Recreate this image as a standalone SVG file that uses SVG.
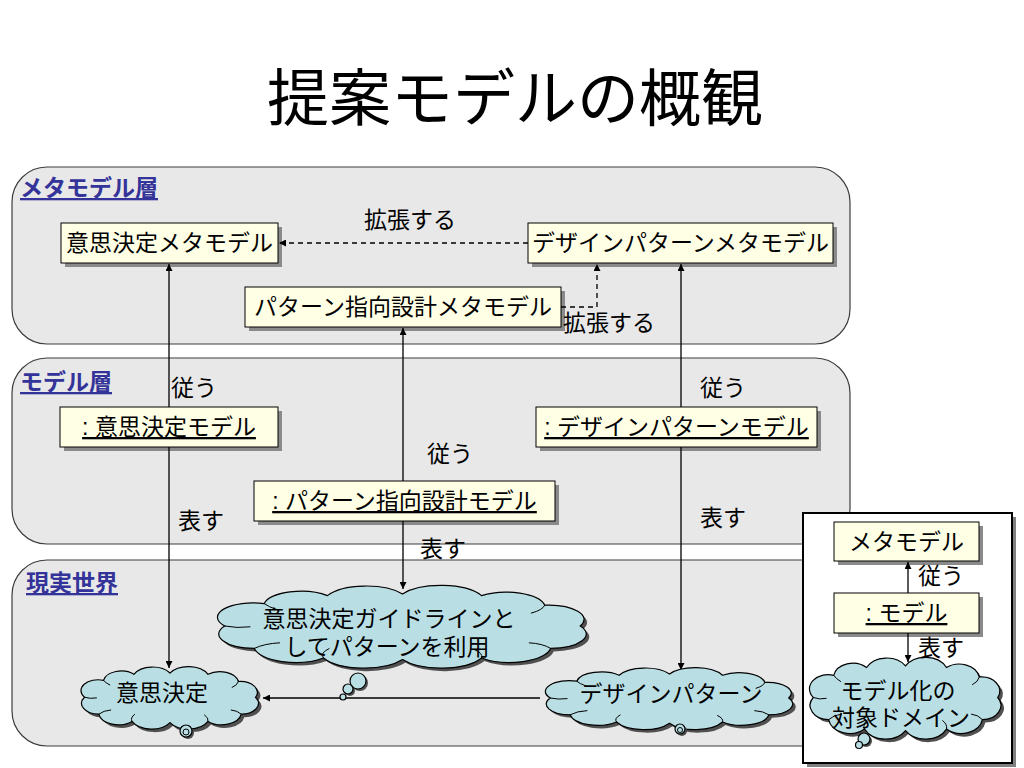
<svg xmlns="http://www.w3.org/2000/svg" xmlns:xlink="http://www.w3.org/1999/xlink" width="1024" height="768" viewBox="0 0 1024 768">
<style>
.t{font-family:"Liberation Sans","Noto Sans CJK JP",sans-serif;font-size:23px;fill:#000}
.title{font-size:62px}
.layer{font-weight:bold;fill:#333399;text-decoration:underline;font-size:23px}
.u{text-decoration:underline}
.panel{fill:#e8e8e8;stroke:#3c3c3c;stroke-width:1.2}
.box{fill:#ffffe6;stroke:#000;stroke-width:1}
.shadow{fill:#8a8a8a}
.cloud{fill:#b9dfe4;stroke:#000;stroke-width:1.2}
.cshadow{fill:#505050}
.inner{fill:none;stroke:#000;stroke-width:1}
.conn{stroke:#000;stroke-width:1.3;fill:none}
.dash{stroke-dasharray:5 4}
</style>
<defs>
<marker id="arr" viewBox="0 0 10 10" refX="10" refY="5" markerWidth="9" markerHeight="7" markerUnits="userSpaceOnUse" orient="auto"><path d="M0,0 L10,5 L0,10 Z" fill="#000"/></marker>
<path id="cl" vector-effect="non-scaling-stroke" d="M10,50 A18,18 0 0 1 30,22 A19,19 0 0 1 62,12 A22,22 0 0 1 100,10 A23,23 0 0 1 140,12 A20,20 0 0 1 172,24 A18,18 0 0 1 190,50 A18,18 0 0 1 175,78 A21,21 0 0 1 140,90 A23,23 0 0 1 100,92 A23,23 0 0 1 60,90 A21,21 0 0 1 25,78 A18,18 0 0 1 10,50 Z"/>
<path id="ci" vector-effect="non-scaling-stroke" d="M25,78 q5,-6 13,-7 M60,90 q-2,-6 3,-12 M140,90 q1,-6 -4,-11 M175,78 q-4,-6 -11,-7 M172,24 q-1,6 -7,10 M30,22 q2,4 7,8 M10,50 q6,3 13,1"/>
</defs>

<text class="t title" x="515" y="121" text-anchor="middle">提案モデルの概観</text>

<g id="layer-meta"><rect class="panel" x="12" y="167" width="838" height="177" rx="35"/><text class="t layer" x="20" y="196">メタモデル層</text></g>
<g id="layer-model"><rect class="panel" x="12" y="358" width="838" height="186" rx="35"/><text class="t layer" x="20" y="390">モデル層</text></g>
<g id="layer-real"><rect class="panel" x="12" y="560" width="838" height="186" rx="35"/><text class="t layer" x="26" y="591">現実世界</text></g>

<g id="legend"><rect x="807" y="517" width="209" height="250" fill="#808080"/><rect x="803" y="513" width="209" height="250" fill="#fff" stroke="#000" stroke-width="2"/></g>

<g id="n-dm-meta"><rect class="shadow" x="65" y="227" width="217" height="40"/><rect class="box" x="61" y="223" width="217" height="40"/><text class="t" x="169.5" y="251" text-anchor="middle">意思決定メタモデル</text></g>
<g id="n-dp-meta"><rect class="shadow" x="532" y="227" width="305" height="40"/><rect class="box" x="528" y="223" width="305" height="40"/><text class="t" x="680.5" y="251" text-anchor="middle">デザインパターンメタモデル</text></g>
<g id="n-pod-meta"><rect class="shadow" x="249" y="291" width="316" height="40"/><rect class="box" x="245" y="287" width="316" height="40"/><text class="t" x="403" y="315" text-anchor="middle">パターン指向設計メタモデル</text></g>
<g id="n-dm-model"><rect class="shadow" x="64" y="411" width="218" height="40"/><rect class="box" x="60" y="407" width="218" height="40"/><text class="t u" x="169" y="435" text-anchor="middle">: 意思決定モデル</text></g>
<g id="n-pod-model"><rect class="shadow" x="258" y="485" width="301" height="40"/><rect class="box" x="254" y="481" width="301" height="40"/><text class="t u" x="404.5" y="509" text-anchor="middle">: パターン指向設計モデル</text></g>
<g id="n-dp-model"><rect class="shadow" x="540" y="411" width="281" height="40"/><rect class="box" x="536" y="407" width="281" height="40"/><text class="t u" x="676.5" y="435" text-anchor="middle">: デザインパターンモデル</text></g>
<g id="n-leg-meta"><rect class="shadow" x="838" y="526" width="145" height="39"/><rect class="box" x="834" y="522" width="145" height="39"/><text class="t" x="906.5" y="550" text-anchor="middle">メタモデル</text></g>
<g id="n-leg-model"><rect class="shadow" x="838" y="597" width="145" height="40"/><rect class="box" x="834" y="593" width="145" height="40"/><text class="t u" x="906.5" y="621" text-anchor="middle">: モデル</text></g>

<g id="connectors">
<path class="conn dash" d="M528,243 L279,243" marker-end="url(#arr)"/>
<path class="conn dash" d="M561,307 L597,307 L597,264" marker-end="url(#arr)"/>
<path class="conn" d="M169,407 L169,264" marker-end="url(#arr)"/>
<path class="conn" d="M169,447 L169,668" marker-end="url(#arr)"/>
<path class="conn" d="M403,481 L403,328" marker-end="url(#arr)"/>
<path class="conn" d="M403,521 L403,589" marker-end="url(#arr)"/>
<path class="conn" d="M681,407 L681,264" marker-end="url(#arr)"/>
<path class="conn" d="M681,447 L681,670" marker-end="url(#arr)"/>
<path class="conn" d="M540,698 L263,698" marker-end="url(#arr)"/>
<path class="conn" d="M908,593 L908,562" marker-end="url(#arr)"/>
<path class="conn" d="M908,633 L908,662" marker-end="url(#arr)"/>
</g>

<g id="c-guide">
<use xlink:href="#cl" class="cshadow" transform="translate(208,589) scale(1.975,0.8)"/>
<use xlink:href="#cl" class="cloud" transform="translate(205,586) scale(1.975,0.8)"/>
<use xlink:href="#ci" class="inner" transform="translate(205,586) scale(1.975,0.8)"/>
<circle cx="360" cy="683" r="8" fill="#505050"/><circle class="cloud" cx="358" cy="681" r="8"/>
<circle cx="350" cy="691" r="5" fill="#505050"/><circle class="cloud" cx="348" cy="689" r="5"/>
<circle class="cloud" cx="343" cy="697" r="3"/>
<text class="t" x="389" y="627" text-anchor="middle">意思決定ガイドラインと</text>
<text class="t" x="387" y="655" text-anchor="middle">してパターンを利用</text>
</g>
<g id="c-dm">
<use xlink:href="#cl" class="cshadow" transform="translate(78,670) scale(0.95,0.605)"/>
<use xlink:href="#cl" class="cloud" transform="translate(75,667) scale(0.95,0.605)"/>
<use xlink:href="#ci" class="inner" transform="translate(75,667) scale(0.95,0.605)"/>
<circle cx="188" cy="733" r="6" fill="#505050"/><circle class="cloud" cx="186" cy="731" r="6"/><circle class="inner" cx="186" cy="732" r="3"/>
<text class="t" x="162" y="701" text-anchor="middle" font-size="24">意思決定</text>
</g>
<g id="c-dp">
<use xlink:href="#cl" class="cshadow" transform="translate(540,671) scale(1.325,0.6)"/>
<use xlink:href="#cl" class="cloud" transform="translate(537,668) scale(1.325,0.6)"/>
<use xlink:href="#ci" class="inner" transform="translate(537,668) scale(1.325,0.6)"/>
<circle cx="682" cy="731" r="5" fill="#505050"/><circle class="cloud" cx="680" cy="729" r="5"/><circle class="inner" cx="680" cy="730" r="2.5"/>
<text class="t" x="671" y="702" text-anchor="middle" font-size="24">デザインパターン</text>
</g>
<g id="c-domain">
<use xlink:href="#cl" class="cshadow" transform="translate(806,661) scale(1.025,0.79)"/>
<use xlink:href="#cl" class="cloud" transform="translate(803,658) scale(1.025,0.79)"/>
<use xlink:href="#ci" class="inner" transform="translate(803,658) scale(1.025,0.79)"/>
<circle cx="866" cy="741" r="6" fill="#505050"/><circle class="cloud" cx="864" cy="739" r="6"/><circle class="cloud" cx="859" cy="745" r="3.5"/>
<text class="t" x="898" y="699" text-anchor="middle">モデル化の</text>
<text class="t" x="901" y="726" text-anchor="middle">対象ドメイン</text>
</g>

<g id="labels">
<text class="t" x="410" y="228" text-anchor="middle">拡張する</text>
<text class="t" x="563" y="331">拡張する</text>
<text class="t" x="171" y="396">従う</text>
<text class="t" x="427" y="462">従う</text>
<text class="t" x="700" y="396">従う</text>
<text class="t" x="178" y="529">表す</text>
<text class="t" x="700" y="526">表す</text>
<text class="t" x="420" y="557">表す</text>
<text class="t" x="918" y="584">従う</text>
<text class="t" x="918" y="656">表す</text>
</g>
</svg>
